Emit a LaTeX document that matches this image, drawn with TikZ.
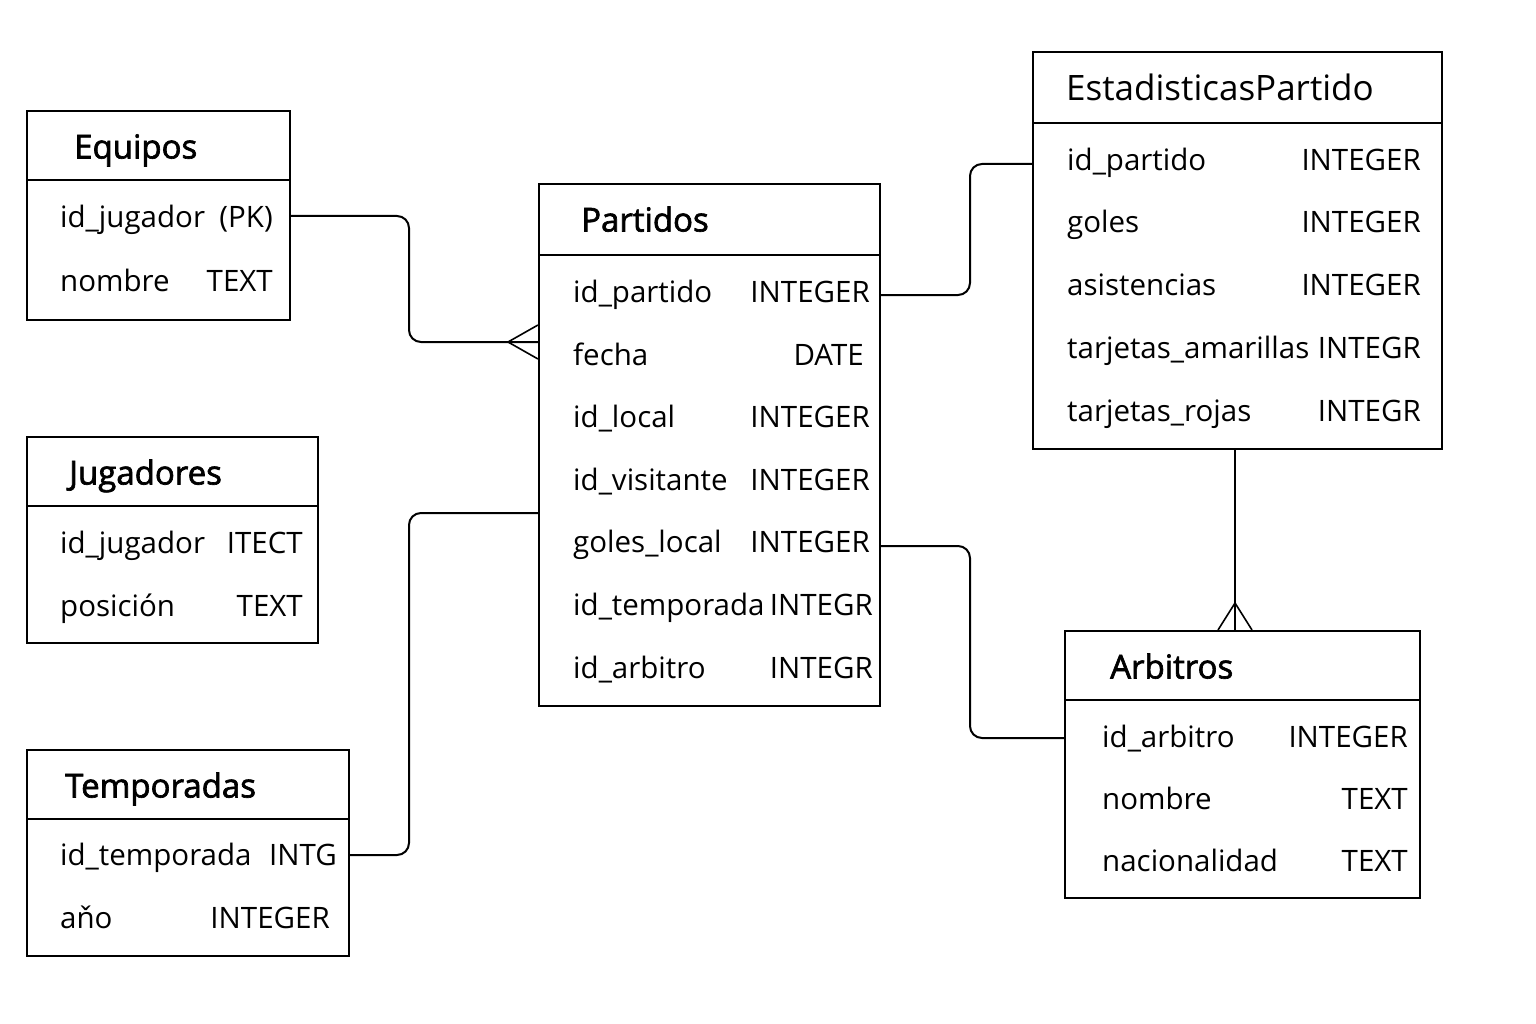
\documentclass[tikz,border=0pt]{standalone}
\usepackage{fontspec}
\setmainfont{Open Sans}
\newfontfamily\titlefont[FakeBold=2]{Open Sans}
\begin{document}
\begin{tikzpicture}[x=1pt,y=-1pt,
  tbox/.style={draw, line width=2pt, anchor=north west, inner sep=0pt},
  div/.style={line width=2pt},
  conn/.style={line width=2pt, rounded corners=12pt},
  crow/.style={line width=1.6pt},
  ttl/.style={anchor=west, inner sep=0pt, text height=23pt, text depth=0pt, font=\titlefont\fontsize{33}{38}\selectfont},
  ttlr/.style={anchor=west, inner sep=0pt, text height=24pt, text depth=0pt, font=\fontsize{35}{40}\selectfont},
  fld/.style={anchor=west, inner sep=0pt, text height=21pt, text depth=0pt, font=\fontsize{29.5}{34}\selectfont},
  typ/.style={anchor=east, inner sep=0pt, text height=21pt, text depth=0pt, font=\fontsize{29.5}{34}\selectfont}
]
\useasboundingbox (0,0) rectangle (1536,1024);
\fill[white] (0,0) rectangle (1536,1024);

% Equipos
\node[tbox, minimum width=263pt, minimum height=209pt] (E) at (26,110) {};
\draw[div] (26,180) -- (289,180);
\node[ttl] (Et) at (74,147) {Equipos};
\node[fld] (E1) at (60,217) {id\_jugador};
\node[typ] (E1t) at (273,217) {(PK)};
\node[fld] (E2) at (60,281) {nombre};
\node[typ] (E2t) at (273,281) {TEXT};

% Jugadores
\node[tbox, minimum width=291pt, minimum height=206pt] (J) at (26,436) {};
\draw[div] (26,506) -- (317,506);
\node[ttl] (Jt) at (69,473) {Jugadores};
\node[fld] (J1) at (60,543) {id\_jugador};
\node[typ] (J1t) at (303,543) {ITECT};
\node[fld] (J2) at (60,606) {posición};
\node[typ] (J2t) at (303,606) {TEXT};

% Temporadas
\node[tbox, minimum width=322pt, minimum height=206pt] (T) at (26,749) {};
\draw[div] (26,819) -- (348,819);
\node[ttl] (Tt) at (65,786) {Temporadas};
\node[fld] (T1) at (60,855) {id\_temporada};
\node[typ] (T1t) at (337,855) {INTG};
\node[fld] (T2) at (60,918) {aňo};
\node[typ] (T2t) at (330,918) {INTEGER};

% Partidos
\node[tbox, minimum width=341pt, minimum height=522pt] (P) at (538,183) {};
\draw[div] (538,255) -- (879,255);
\node[ttl] (Pt) at (581,220) {Partidos};
\node[fld] (P1) at (573,292) {id\_partido};
\node[typ] (P1t) at (870,292) {INTEGER};
\node[fld] (P2) at (573,355) {fecha};
\node[typ] (P2t) at (864,355) {DATE};
\node[fld] (P3) at (573,417) {id\_local};
\node[typ] (P3t) at (870,417) {INTEGER};
\node[fld] (P4) at (573,480) {id\_visitante};
\node[typ] (P4t) at (870,480) {INTEGER};
\node[fld] (P5) at (573,542) {goles\_local};
\node[typ] (P5t) at (870,542) {INTEGER};
\node[fld] (P6) at (573,605) {id\_temporada};
\node[typ] (P6t) at (873,605) {INTEGR};
\node[fld] (P7) at (573,668) {id\_arbitro};
\node[typ] (P7t) at (873,668) {INTEGR};

% EstadisticasPartido
\node[tbox, minimum width=409pt, minimum height=397pt] (S) at (1032,51) {};
\draw[div] (1032,123) -- (1441,123);
\node[ttlr] (St) at (1066,89) {EstadisticasPartido};
\node[fld] (S1) at (1067,160) {id\_partido};
\node[typ] (S1t) at (1421,160) {INTEGER};
\node[fld] (S2) at (1067,222) {goles};
\node[typ] (S2t) at (1421,222) {INTEGER};
\node[fld] (S3) at (1067,285) {asistencias};
\node[typ] (S3t) at (1421,285) {INTEGER};
\node[fld] (S4) at (1067,348) {tarjetas\_amarillas};
\node[typ] (S4t) at (1421,348) {INTEGR};
\node[fld] (S5) at (1067,411) {tarjetas\_rojas};
\node[typ] (S5t) at (1421,411) {INTEGR};

% Arbitros
\node[tbox, minimum width=355pt, minimum height=267pt] (A) at (1064,630) {};
\draw[div] (1064,700) -- (1419,700);
\node[ttl] (At) at (1110,667) {Arbitros};
\node[fld] (A1) at (1102,737) {id\_arbitro};
\node[typ] (A1t) at (1408,737) {INTEGER};
\node[fld] (A2) at (1102,799) {nombre};
\node[typ] (A2t) at (1408,799) {TEXT};
\node[fld] (A3) at (1102,861) {nacionalidad};
\node[typ] (A3t) at (1408,861) {TEXT};

% Connectors
\coordinate (c1a) at (E.east |- 0,216);
\coordinate (c1b) at (P.west |- 0,342);
\draw[conn] (c1a) -- (409,216) -- (409,342) -- (c1b);
\draw[crow] (508,342) -- (c1b |- 0,325);
\draw[crow] (508,342) -- (c1b |- 0,359);

\coordinate (c2a) at (P.east |- 0,295);
\coordinate (c2b) at (S.west |- 0,164);
\draw[conn] (c2a) -- (970,295) -- (970,164) -- (c2b);

\coordinate (c3a) at (S.south -| 1235,0);
\coordinate (c3b) at (A.north -| 1235,0);
\draw[line width=2pt] (c3a) -- (c3b);
\draw[crow] (1235,603) -- (1218,630);
\draw[crow] (1235,603) -- (1252,630);

\coordinate (c4a) at (P.east |- 0,546);
\coordinate (c4b) at (A.west |- 0,738);
\draw[conn] (c4a) -- (970,546) -- (970,738) -- (c4b);

\coordinate (c5a) at (T.east |- 0,855);
\coordinate (c5b) at (P.west |- 0,513);
\draw[conn] (c5a) -- (409,855) -- (409,513) -- (c5b);
\end{tikzpicture}
\end{document}
